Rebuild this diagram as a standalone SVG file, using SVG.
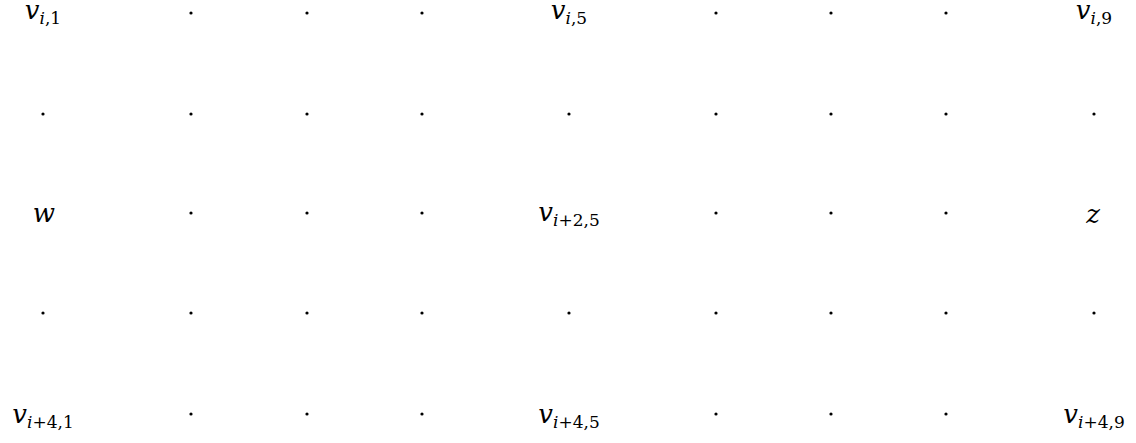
<svg xmlns="http://www.w3.org/2000/svg" width="1136" height="443" viewBox="0 0 1136 443">
<style>
.t{fill:#000;text-anchor:middle;font-size:26px;font-family:"DejaVu Serif",serif}
.it{font-style:italic}
.s{font-size:17px}
</style>
<rect width="1136" height="443" fill="#fff"/>
<defs><circle id="dot" r="1.6" fill="#000"/></defs>
<g id="n11"><text class="t" x="43" y="19"><tspan class="it">v</tspan><tspan class="s" dy="5"><tspan class="it">i</tspan>,1</tspan></text></g>
<g id="n15"><text class="t" x="569" y="19"><tspan class="it">v</tspan><tspan class="s" dy="5"><tspan class="it">i</tspan>,5</tspan></text></g>
<g id="n19"><text class="t" x="1094" y="19"><tspan class="it">v</tspan><tspan class="s" dy="5"><tspan class="it">i</tspan>,9</tspan></text></g>
<g id="w"><text class="t it" x="44" y="222">w</text></g>
<g id="n35"><text class="t" x="569" y="221"><tspan class="it">v</tspan><tspan class="s" dy="5"><tspan class="it">i</tspan>+2,5</tspan></text></g>
<g id="z"><text class="t it" x="1093" y="223">z</text></g>
<g id="n51"><text class="t" x="43" y="423"><tspan class="it">v</tspan><tspan class="s" dy="5"><tspan class="it">i</tspan>+4,1</tspan></text></g>
<g id="n55"><text class="t" x="569" y="423"><tspan class="it">v</tspan><tspan class="s" dy="5"><tspan class="it">i</tspan>+4,5</tspan></text></g>
<g id="n59"><text class="t" x="1094" y="423"><tspan class="it">v</tspan><tspan class="s" dy="5"><tspan class="it">i</tspan>+4,9</tspan></text></g>
<g id="dots">
<use href="#dot" x="191" y="13"/><use href="#dot" x="307" y="13"/><use href="#dot" x="422" y="13"/>
<use href="#dot" x="716" y="13"/><use href="#dot" x="831" y="13"/><use href="#dot" x="946" y="13"/>
<use href="#dot" x="43" y="114"/><use href="#dot" x="191" y="114"/><use href="#dot" x="307" y="114"/><use href="#dot" x="422" y="114"/><use href="#dot" x="569" y="114"/>
<use href="#dot" x="716" y="114"/><use href="#dot" x="831" y="114"/><use href="#dot" x="946" y="114"/><use href="#dot" x="1094" y="114"/>
<use href="#dot" x="191" y="213"/><use href="#dot" x="307" y="213"/><use href="#dot" x="422" y="213"/>
<use href="#dot" x="716" y="213"/><use href="#dot" x="831" y="213"/><use href="#dot" x="946" y="213"/>
<use href="#dot" x="43" y="313"/><use href="#dot" x="191" y="313"/><use href="#dot" x="307" y="313"/><use href="#dot" x="422" y="313"/><use href="#dot" x="569" y="313"/>
<use href="#dot" x="716" y="313"/><use href="#dot" x="831" y="313"/><use href="#dot" x="946" y="313"/><use href="#dot" x="1094" y="313"/>
<use href="#dot" x="191" y="414"/><use href="#dot" x="307" y="414"/><use href="#dot" x="422" y="414"/>
<use href="#dot" x="716" y="414"/><use href="#dot" x="831" y="414"/><use href="#dot" x="946" y="414"/>
</g>
</svg>
